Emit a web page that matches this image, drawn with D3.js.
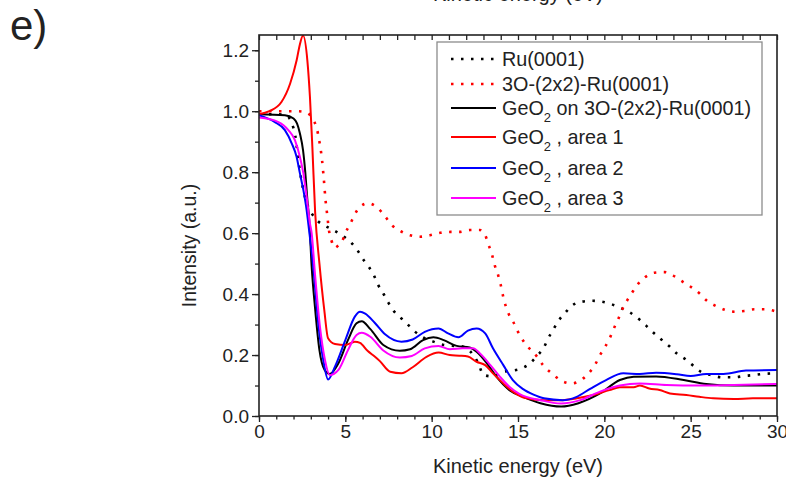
<!DOCTYPE html>
<html lang="en">
<head>
    <meta charset="UTF-8">
    <title>Intensity vs kinetic energy</title>
    <script src="https://d3js.org/d3.v7.min.js"></script>
    <style>
        body { margin: 0; background: #fff; }
        text { font-family: "Liberation Sans", Arial, sans-serif; fill: #222; }
    </style>
</head>
<body>

<svg id="chart" width="786" height="480"></svg>

<script>
    // Series data, [energy (eV), intensity]
    const ru0001 = [[0,0.99],[1,0.99],[1.6,0.985],[1.9,0.96],[2.1,0.92],[2.3,0.83],[2.5,0.76],[2.7,0.71],[3.0,0.67],[3.4,0.64],[3.8,0.625],[4.3,0.61],[4.8,0.593],[5.3,0.571],[5.7,0.544],[6.0,0.517],[6.35,0.49],[6.65,0.462],[6.9,0.43],[7.2,0.402],[7.5,0.371],[7.8,0.345],[8.25,0.32],[8.65,0.298],[9.05,0.276],[9.5,0.258],[10.1,0.244],[10.7,0.233],[11.3,0.23],[11.8,0.228],[12.2,0.214],[12.7,0.173],[13.0,0.135],[13.5,0.13],[14.1,0.145],[14.7,0.149],[15.2,0.156],[15.7,0.173],[16.1,0.197],[16.5,0.225],[16.75,0.255],[17.05,0.284],[17.35,0.313],[17.7,0.336],[18.1,0.361],[18.7,0.375],[19.3,0.378],[19.85,0.375],[20.4,0.367],[21.0,0.353],[21.5,0.339],[22.0,0.318],[22.45,0.295],[22.85,0.273],[23.3,0.251],[23.8,0.227],[24.2,0.205],[24.7,0.186],[25.15,0.165],[25.6,0.145],[26.2,0.134],[26.8,0.127],[27.5,0.127],[28.05,0.131],[28.6,0.134],[29.2,0.138],[30,0.14]];

    const oxygenRu = [[0,1.0],[1,1.0],[2.2,1.0],[2.75,0.996],[3.1,0.975],[3.35,0.943],[3.5,0.9],[3.65,0.84],[3.75,0.78],[3.85,0.71],[3.95,0.66],[4.05,0.61],[4.2,0.575],[4.4,0.552],[4.6,0.56],[4.8,0.571],[5.0,0.6],[5.3,0.632],[5.55,0.662],[5.85,0.686],[6.3,0.698],[6.9,0.681],[7.3,0.655],[7.7,0.626],[8.15,0.608],[8.75,0.593],[9.3,0.588],[9.9,0.593],[10.5,0.601],[11.1,0.604],[11.6,0.604],[12.2,0.61],[12.8,0.61],[13.1,0.593],[13.3,0.561],[13.5,0.528],[13.65,0.495],[13.85,0.462],[14.0,0.43],[14.15,0.39],[14.45,0.336],[14.75,0.306],[15.0,0.276],[15.3,0.247],[15.7,0.219],[16.1,0.195],[16.45,0.167],[16.95,0.14],[17.5,0.116],[18.1,0.107],[18.6,0.116],[19.05,0.138],[19.45,0.167],[19.75,0.2],[20.05,0.227],[20.35,0.26],[20.55,0.287],[20.8,0.317],[21.0,0.345],[21.3,0.377],[21.6,0.404],[21.95,0.433],[22.35,0.455],[22.9,0.47],[23.5,0.472],[24.1,0.457],[24.55,0.44],[25.05,0.422],[25.55,0.4],[25.9,0.38],[26.45,0.361],[27.0,0.348],[27.55,0.342],[28.15,0.345],[28.7,0.35],[29.3,0.35],[30,0.342]];

    const geo2OnO = [[0,0.99],[1.5,0.987],[2.0,0.976],[2.2,0.96],[2.37,0.927],[2.55,0.872],[2.68,0.8],[2.8,0.71],[2.9,0.65],[3.05,0.49],[3.24,0.358],[3.5,0.216],[3.8,0.151],[4.1,0.138],[4.6,0.173],[5.15,0.249],[5.65,0.304],[5.95,0.311],[6.45,0.285],[7.2,0.233],[8.15,0.214],[8.75,0.219],[9.5,0.249],[10.1,0.258],[10.7,0.249],[11.45,0.23],[12.2,0.225],[12.6,0.211],[13.2,0.173],[13.75,0.129],[14.5,0.085],[15.3,0.063],[16.3,0.042],[17.5,0.031],[18.5,0.042],[19.75,0.074],[20.9,0.118],[21.7,0.129],[23.0,0.13],[24.6,0.118],[25.9,0.105],[27.5,0.1],[30,0.1]];

    const area1 = [[0,0.99],[0.6,1.0],[1.3,1.03],[1.8,1.09],[2.18,1.167],[2.37,1.22],[2.55,1.248],[2.8,1.167],[2.95,1.047],[3.09,0.883],[3.25,0.67],[3.5,0.5],[3.78,0.348],[4.0,0.255],[4.4,0.236],[5.0,0.233],[5.55,0.244],[5.85,0.24],[6.3,0.213],[6.7,0.195],[7.0,0.18],[7.6,0.145],[8.25,0.14],[8.9,0.16],[9.7,0.194],[10.4,0.208],[11.05,0.2],[11.6,0.198],[12.1,0.195],[12.6,0.178],[13.1,0.167],[13.55,0.14],[14.15,0.107],[14.7,0.08],[15.5,0.058],[16.5,0.052],[17.4,0.052],[18.4,0.058],[19.35,0.069],[20.3,0.085],[20.9,0.094],[21.7,0.094],[22.06,0.1],[22.6,0.09],[23.2,0.085],[23.8,0.074],[24.75,0.069],[25.5,0.063],[26.3,0.058],[27.5,0.056],[28.6,0.058],[30,0.058]];

    const area2 = [[0,0.987],[0.9,0.965],[1.5,0.938],[1.9,0.894],[2.18,0.85],[2.37,0.796],[2.57,0.741],[2.76,0.675],[2.9,0.61],[3.14,0.49],[3.43,0.304],[3.72,0.184],[4.0,0.12],[4.4,0.162],[5.0,0.249],[5.55,0.326],[5.85,0.342],[6.15,0.336],[6.7,0.306],[7.3,0.268],[8.25,0.244],[8.9,0.251],[9.6,0.276],[10.4,0.287],[10.95,0.271],[11.55,0.258],[12.1,0.28],[12.6,0.287],[13.1,0.271],[13.55,0.222],[14.15,0.167],[14.7,0.118],[15.3,0.088],[15.9,0.07],[16.5,0.058],[17.6,0.052],[18.4,0.063],[19.2,0.09],[20.1,0.118],[21.1,0.14],[22.05,0.138],[23.0,0.142],[24.2,0.137],[25.0,0.131],[25.9,0.138],[26.9,0.138],[28.2,0.149],[30,0.151]];

    const area3 = [[0,0.979],[1.1,0.965],[1.7,0.938],[2.08,0.905],[2.37,0.85],[2.57,0.796],[2.76,0.719],[2.95,0.632],[3.05,0.6],[3.24,0.468],[3.53,0.293],[3.82,0.184],[4.1,0.134],[4.6,0.151],[5.15,0.216],[5.65,0.266],[5.95,0.273],[6.45,0.26],[7.2,0.215],[8.15,0.192],[8.85,0.197],[9.6,0.222],[10.4,0.23],[11.05,0.219],[11.8,0.222],[12.4,0.222],[12.8,0.205],[13.4,0.167],[13.95,0.129],[14.5,0.096],[15.1,0.072],[16.3,0.052],[17.5,0.041],[18.6,0.052],[19.75,0.08],[20.9,0.1],[22.05,0.107],[23.6,0.102],[25.5,0.1],[27.5,0.102],[30,0.105]];

    // Tick values
    const xTicks = [0, 5, 10, 15, 20, 25, 30];
    const yTicks = [0, 0.2, 0.4, 0.6, 0.8, 1.0, 1.2];

    // Series styling / legend entries
    const series = [
        { label: "Ru(0001)", data: ru0001, color: "#000000", dotted: true },
        { label: "3O-(2x2)-Ru(0001)", data: oxygenRu, color: "#ff0000", dotted: true },
        { label: ["GeO", "2", " on 3O-(2x2)-Ru(0001)"], data: geo2OnO, color: "#000000" },
        { label: ["GeO", "2", " , area 1"], data: area1, color: "#ff0000" },
        { label: ["GeO", "2", " , area 2"], data: area2, color: "#0000ff" },
        { label: ["GeO", "2", " , area 3"], data: area3, color: "#ff00ff" }
    ];

    const svg = d3.select("#chart");
    const LEFT = 259, RIGHT = 777, TOP = 35, BOTTOM = 416;
    const AXIS_COLOR = "#222";

    const x = d3.scaleLinear().domain([0, 30]).range([LEFT, RIGHT]);
    const y = d3.scaleLinear().domain([0, 1.25]).range([BOTTOM, TOP]);

    // cut-off title from the panel above
    svg.append("text")
        .attr("x", (LEFT + RIGHT) / 2).attr("y", 1)
        .attr("text-anchor", "middle")
        .style("font-size", "20px")
        .text("Kinetic energy (eV)");

    // panel letter
    svg.append("text")
        .attr("x", 10).attr("y", 40)
        .style("font-size", "42px")
        .text("e)");

    // clip for curves
    svg.append("clipPath").attr("id", "plotClip")
        .append("rect")
        .attr("x", LEFT).attr("y", TOP)
        .attr("width", RIGHT - LEFT).attr("height", BOTTOM - TOP);

    const line = d3.line()
        .x(d => x(d[0]))
        .y(d => y(d[1]))
        .curve(d3.curveMonotoneX);

    const plot = svg.append("g").attr("clip-path", "url(#plotClip)");
    series.forEach(s => {
        plot.append("path")
            .datum(s.data)
            .attr("fill", "none")
            .attr("stroke", s.color)
            .attr("stroke-width", s.dotted ? 2.6 : 2)
            .attr("stroke-dasharray", s.dotted ? "2.5,7.5" : null)
            .attr("d", line);
    });

    // axes
    function styleAxis(g) {
        g.select(".domain").remove();
        g.selectAll("line").attr("stroke", AXIS_COLOR).attr("stroke-width", 1.3);
        g.selectAll("text").style("font-size", "19px").attr("fill", AXIS_COLOR);
    }

    // bottom: minor then major
    svg.append("g")
        .attr("transform", `translate(0,${BOTTOM})`)
        .call(d3.axisBottom(x).tickValues(d3.range(0, 31, 1)).tickSize(3.5).tickFormat(""))
        .call(styleAxis);
    svg.append("g")
        .attr("transform", `translate(0,${BOTTOM})`)
        .call(d3.axisBottom(x).tickValues(xTicks).tickSize(6).tickPadding(3).tickFormat(d3.format("d")))
        .call(styleAxis);

    // left: minor then major
    svg.append("g")
        .attr("transform", `translate(${LEFT},0)`)
        .call(d3.axisLeft(y).tickValues(d3.range(0, 1.21, 0.1)).tickSize(4).tickFormat(""))
        .call(styleAxis);
    svg.append("g")
        .attr("transform", `translate(${LEFT},0)`)
        .call(d3.axisLeft(y).tickValues(yTicks).tickSize(7).tickPadding(3).tickFormat(d3.format(".1f")))
        .call(styleAxis);

    // top: inward ticks every 1 eV
    svg.append("g")
        .attr("transform", `translate(0,${TOP})`)
        .call(d3.axisTop(x).tickValues(d3.range(0, 31, 1)).tickSize(-5).tickFormat(""))
        .call(styleAxis);

    // frame
    svg.append("rect")
        .attr("x", LEFT).attr("y", TOP)
        .attr("width", RIGHT - LEFT).attr("height", BOTTOM - TOP)
        .attr("fill", "none")
        .attr("stroke", AXIS_COLOR)
        .attr("stroke-width", 1.6);

    // axis titles
    svg.append("text")
        .attr("x", (LEFT + RIGHT) / 2).attr("y", 473)
        .attr("text-anchor", "middle")
        .style("font-size", "20px")
        .text("Kinetic energy (eV)");

    svg.append("text")
        .attr("transform", `translate(196,${(TOP + BOTTOM) / 2 + 20}) rotate(-90)`)
        .attr("text-anchor", "middle")
        .style("font-size", "19.5px")
        .text("Intensity (a.u.)");

    // legend
    const legendRows = [59, 84, 108, 137, 168, 198];
    const legend = svg.append("g");
    legend.append("rect")
        .attr("x", 437).attr("y", 42)
        .attr("width", 325).attr("height", 173)
        .attr("fill", "#fff")
        .attr("stroke", "#8c8c8c")
        .attr("stroke-width", 1.3);

    series.forEach((s, i) => {
        const ry = legendRows[i];
        legend.append("line")
            .attr("x1", 451).attr("x2", 496)
            .attr("y1", ry).attr("y2", ry)
            .attr("stroke", s.color)
            .attr("stroke-width", s.dotted ? 2.4 : 2)
            .attr("stroke-dasharray", s.dotted ? "2.5,7.5" : null);

        const t = legend.append("text")
            .attr("x", 502).attr("y", ry + 7)
            .style("font-size", "19.8px");
        if (typeof s.label === "string") {
            t.text(s.label);
        } else {
            t.append("tspan").text(s.label[0]);
            t.append("tspan").attr("dy", 7).style("font-size", "13px").text(s.label[1]);
            t.append("tspan").attr("dy", -7).attr("xml:space", "preserve").text(s.label[2]);
        }
    });
</script>

</body>
</html>
